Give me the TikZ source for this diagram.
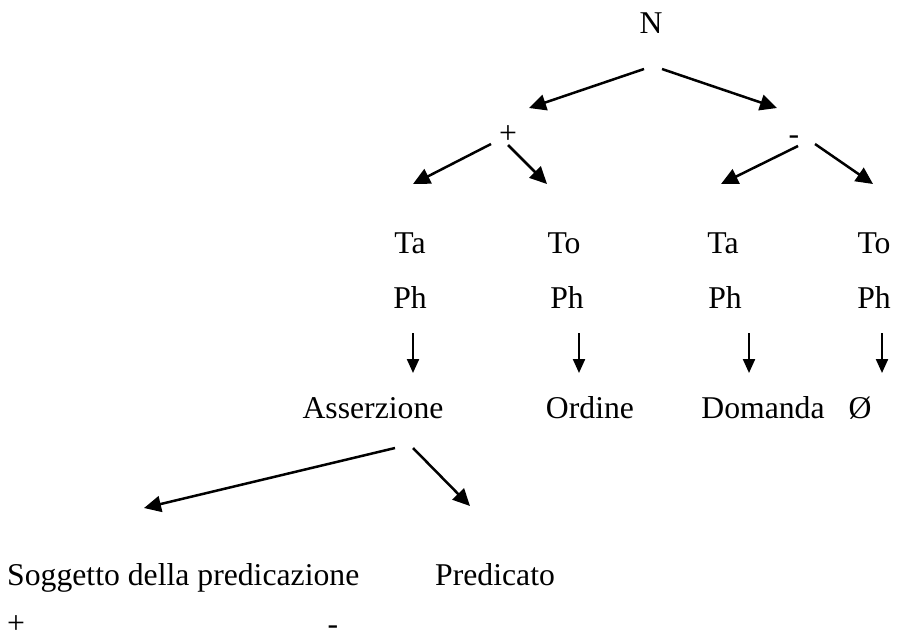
\documentclass[tikz,border=0pt]{standalone}
\usepackage{fontspec}
\setmainfont{Liberation Serif}
\usetikzlibrary{arrows.meta}
\begin{document}
\begin{tikzpicture}[x=1pt,y=1pt,
  lbl/.style={anchor=base,inner sep=0pt,font=\fontsize{31.7}{38}\selectfont},
  lblw/.style={lbl,anchor=base west},
  branch/.style={line width=2.5pt,-{Triangle[length=17pt,width=16pt]}},
  drop/.style={line width=2.2pt,-{Triangle[length=14pt,width=12pt]}}]
\useasboundingbox (0,0) rectangle (904,-641);

% labels
\node[lbl] (n) at (651,-33) {N};
\node[lbl] (plus) at (508,-143) {+};
\node[lbl] (minus) at (794,-144) {-};

\node[lbl] (ta1) at (410,-253) {Ta};
\node[lbl] (to1) at (564,-253) {To};
\node[lbl] (ta2) at (723,-253) {Ta};
\node[lbl] (to2) at (874,-253) {To};

\node[lbl] (ph1) at (410,-308) {Ph};
\node[lbl] (ph2) at (567,-308) {Ph};
\node[lbl] (ph3) at (725,-308) {Ph};
\node[lbl] (ph4) at (874,-308) {Ph};

\node[lbl] (ass) at (373,-418) {Asserzione};
\node[lbl] (ord) at (590,-418) {Ordine};
\node[lbl] (dom) at (763,-418) {Domanda};
\node[lbl] (nul) at (860,-418) {Ø};

\node[lblw] (sog) at (7,-585) {Soggetto della predicazione};
\node[lblw] (pred) at (435,-585) {Predicato};

\node[lbl] (plusb) at (16,-633) {+};
\node[lbl] (minusb) at (333,-634) {-};

% arrow end points
\coordinate (nL0) at (644,-69);  \coordinate (nL1) at (529,-108);
\coordinate (nR0) at (662,-69);  \coordinate (nR1) at (777,-108);
\coordinate (pL0) at (491,-144); \coordinate (pL1) at (413,-184);
\coordinate (pR0) at (508,-145); \coordinate (pR1) at (547,-184);
\coordinate (mL0) at (798,-146); \coordinate (mL1) at (721,-184);
\coordinate (mR0) at (815,-144); \coordinate (mR1) at (873,-184);
\coordinate (aL0) at (395,-448); \coordinate (aL1) at (144,-508);
\coordinate (aR0) at (413,-448); \coordinate (aR1) at (470,-506);

\coordinate (d10) at (413,-333); \coordinate (d11) at (413,-373);
\coordinate (d20) at (579,-333); \coordinate (d21) at (579,-373);
\coordinate (d30) at (749,-333); \coordinate (d31) at (749,-373);
\coordinate (d40) at (882,-333); \coordinate (d41) at (882,-373);

% branching arrows
\draw[branch] (nL0) -- (nL1);
\draw[branch] (nR0) -- (nR1);
\draw[branch] (pL0) -- (pL1);
\draw[branch] (pR0) -- (pR1);
\draw[branch] (mL0) -- (mL1);
\draw[branch] (mR0) -- (mR1);
\draw[branch] (aL0) -- (aL1);
\draw[branch] (aR0) -- (aR1);

% vertical arrows below Ph
\draw[drop] (d10) -- (d11);
\draw[drop] (d20) -- (d21);
\draw[drop] (d30) -- (d31);
\draw[drop] (d40) -- (d41);
\end{tikzpicture}
\end{document}
